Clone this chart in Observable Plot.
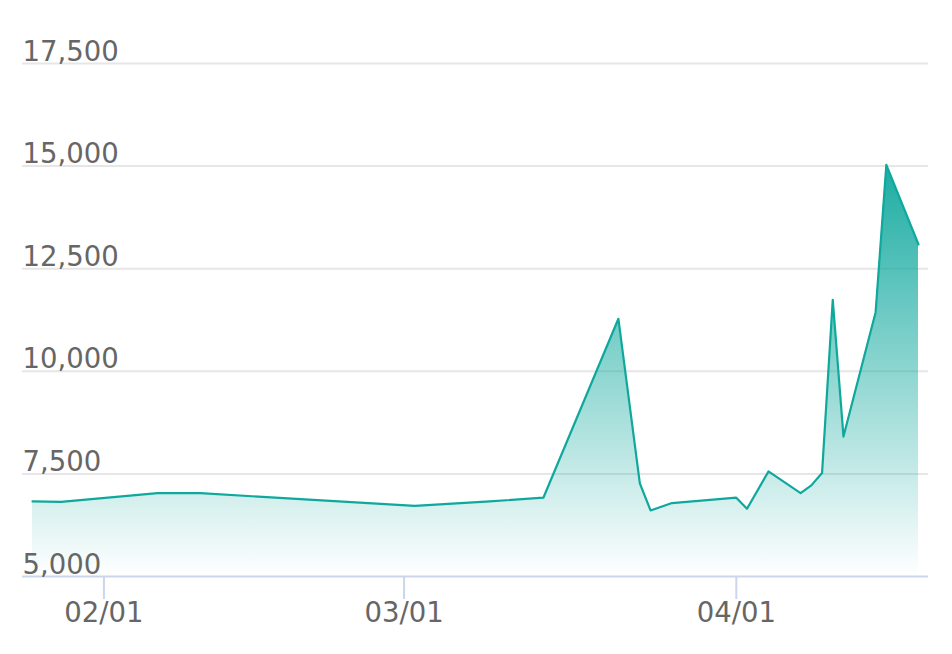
<!DOCTYPE html>
<html><head><meta charset="utf-8">
<script src="https://cdn.jsdelivr.net/npm/d3@7"></script>
<script src="https://cdn.jsdelivr.net/npm/@observablehq/plot@0.6"></script>
<style>body{margin:0;background:#fff} svg{display:block}</style>
</head><body><div id="chart"></div>
<script>
const dates = ["2023-01-25T08:00Z","2023-01-28","2023-02-06","2023-02-10","2023-03-02","2023-03-09","2023-03-14","2023-03-21","2023-03-23","2023-03-24","2023-03-26","2023-04-01","2023-04-02","2023-04-04","2023-04-07","2023-04-08","2023-04-09","2023-04-10","2023-04-11","2023-04-14","2023-04-15","2023-04-18"];
const values = [6830,6820,7030,7030,6720,6830,6920,11280,7270,6610,6790,6920,6650,7560,7030,7220,7520,11740,8410,11440,15030,13090];
const xTicks = ["2023-02-01","2023-03-01","2023-04-01"];
const yTicks = [5000,7500,10000,12500,15000,17500];

const data = dates.map((d, i) => ({date: new Date(d), value: values[i]}));
const xTickDates = xTicks.map(d => new Date(d));
const teal = "#0fa89d";
const font = "DejaVu Sans";

const plot = Plot.plot({
  width: 952,
  height: 654,
  marginLeft: 22,
  marginRight: 24,
  marginTop: 63,
  marginBottom: 78,
  style: {fontFamily: font, background: "#fff"},
  x: {type: "utc", insetLeft: 10, insetRight: 10},
  y: {domain: [5000, 17500]},
  marks: [
    Plot.ruleY(yTicks.slice(1), {stroke: "#e6e6e6", strokeWidth: 2}),
    Plot.areaY(data, {x: "date", y1: 5000, y2: "value", fill: "url(#areaGrad)"}),
    Plot.lineY(data, {x: "date", y: "value", stroke: teal, strokeWidth: 2.2}),
    Plot.ruleY([5000], {stroke: "#ccd6eb", strokeWidth: 2}),
    Plot.axisY(yTicks, {anchor: "left", tickSize: 0, tickPadding: 0, textAnchor: "start", lineAnchor: "bottom", dy: -3, fontSize: 27.5, fill: "#666", tickFormat: d3.format(","), label: null}),
    Plot.axisX(xTickDates, {anchor: "bottom", tickSize: 23, tickPadding: 3, stroke: "#ccd6eb", strokeWidth: 2, fill: "#666", fontSize: 27.5, tickFormat: d3.utcFormat("%m/%d"), label: null})
  ]
});

const ns = "http://www.w3.org/2000/svg";
const defs = document.createElementNS(ns, "defs");
defs.innerHTML = `<linearGradient id="areaGrad" x1="0" y1="0" x2="0" y2="1">
  <stop offset="0" stop-color="${teal}" stop-opacity="0.95"/>
  <stop offset="1" stop-color="${teal}" stop-opacity="0"/>
</linearGradient>`;
plot.insertBefore(defs, plot.firstChild);
document.getElementById("chart").appendChild(plot);
</script>
</body></html>
